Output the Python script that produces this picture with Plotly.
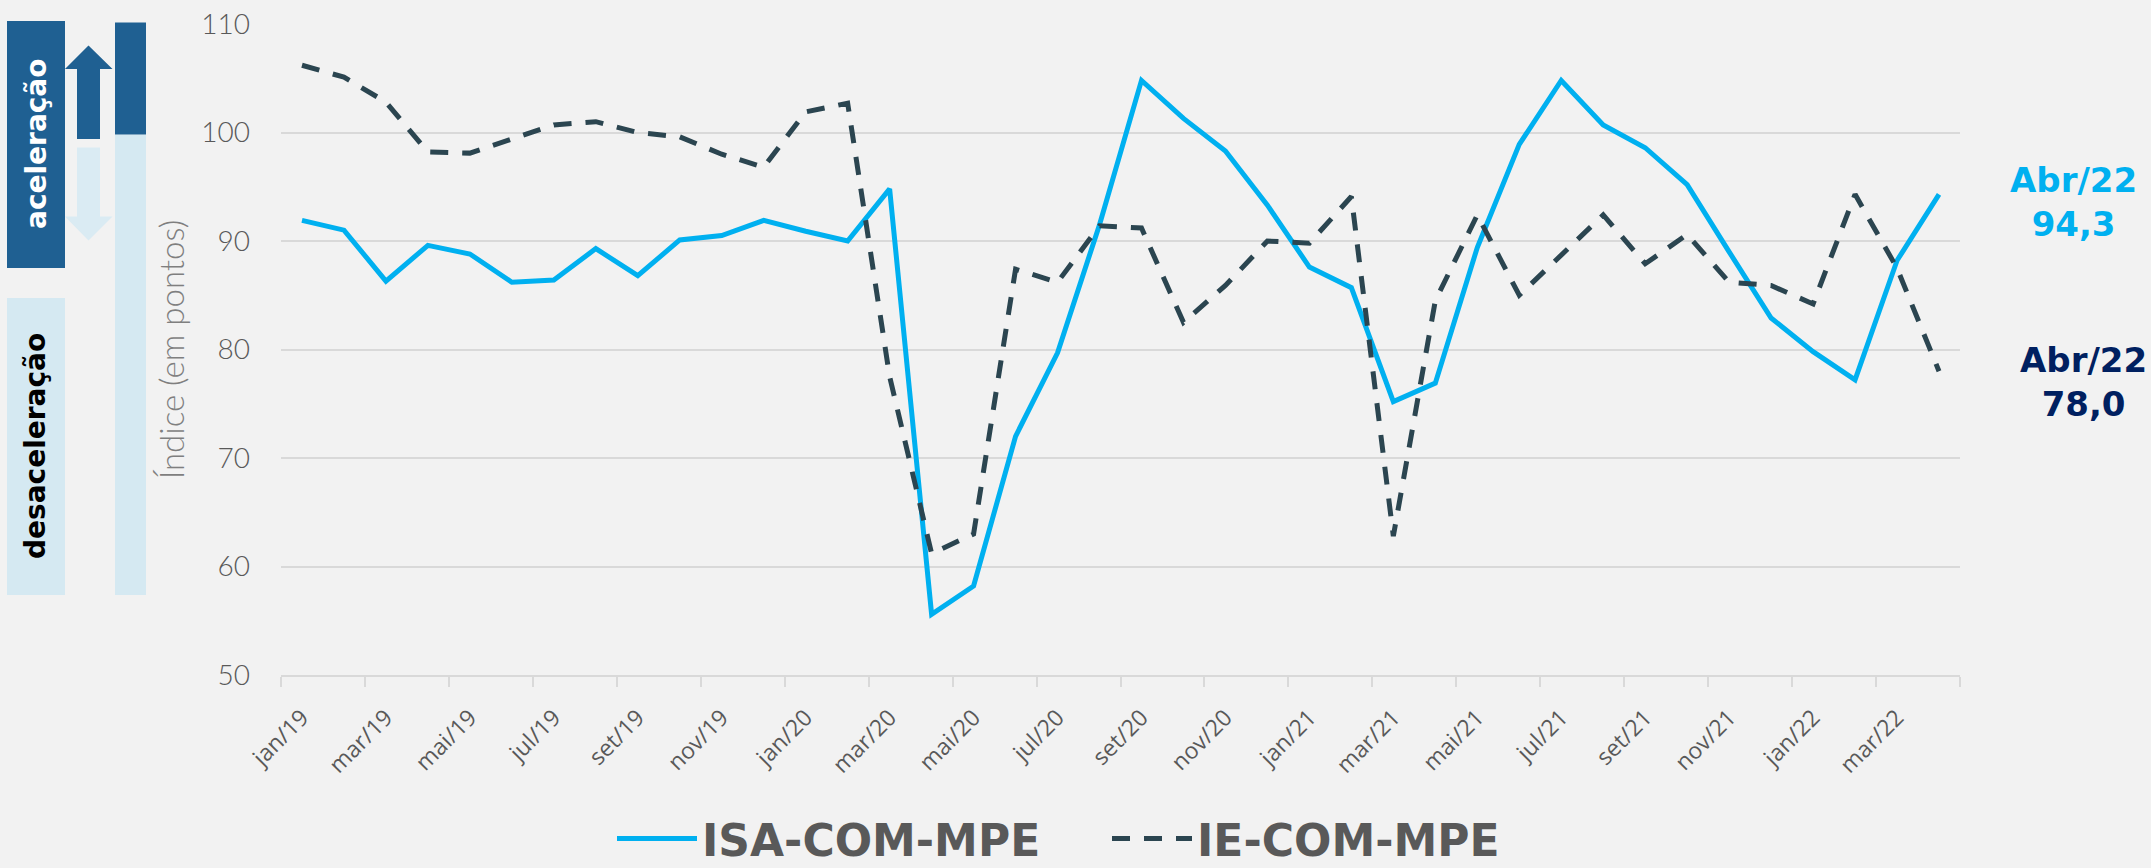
import numpy as np
import plotly.graph_objects as go

# ---------------- data ----------------
months = ["jan/19", "fev/19", "mar/19", "abr/19", "mai/19", "jun/19", "jul/19", "ago/19", "set/19", "out/19", "nov/19", "dez/19",
          "jan/20", "fev/20", "mar/20", "abr/20", "mai/20", "jun/20", "jul/20", "ago/20", "set/20", "out/20", "nov/20", "dez/20",
          "jan/21", "fev/21", "mar/21", "abr/21", "mai/21", "jun/21", "jul/21", "ago/21", "set/21", "out/21", "nov/21", "dez/21",
          "jan/22", "fev/22", "mar/22", "abr/22"]

isa_com_mpe = [91.9, 91.0, 86.3, 89.6, 88.8, 86.2, 86.4, 89.3, 86.8, 90.1, 90.5, 91.9,
               90.9, 90.0, 94.8, 55.6, 58.2, 72.0, 79.7, 91.5, 104.8, 101.3, 98.3, 93.3,
               87.6, 85.7, 75.2, 76.9, 89.4, 98.9, 104.8, 100.7, 98.6, 95.2, 89.0, 82.9,
               79.8, 77.2, 88.2, 94.3]

ie_com_mpe = [106.2, 105.1, 102.8, 98.2, 98.1, 99.4, 100.7, 101.0, 100.0, 99.6, 98.0, 96.8,
              101.9, 102.7, 77.5, 61.2, 63.0, 87.4, 86.2, 91.4, 91.2, 82.5, 85.9, 90.0,
              89.8, 94.1, 62.8, 84.5, 92.4, 85.0, 88.7, 92.4, 87.9, 90.6, 86.2, 85.9,
              84.2, 94.3, 87.5, 78.0]

series_names = ["ISA-COM-MPE", "IE-COM-MPE"]
last_labels = ["Abr/22<br>94,3", "Abr/22<br>78,0"]
y_ticks = [50, 60, 70, 80, 90, 100, 110]

# ---------------- layout geometry ----------------
W_FIG, H_FIG = 2151, 868
ML, MR, MT, MB = 281, 191, 24, 193
PW = W_FIG - ML - MR
PH = H_FIG - MT - MB


def fx(px):
    return (px - ML) / PW


def fy(py):
    return (H_FIG - MB - py) / PH


x_idx = np.arange(len(months))
label_idx = x_idx[::2]
label_txt = [months[i] for i in label_idx]

BLUE = "#00B0F0"
DARK = "#2B4550"
NAVY = "#002060"
BG = "#F2F2F2"
GRID = "#D9D9D9"
TXT = "#595959"

fig = go.Figure()
fig.add_trace(go.Scatter(x=x_idx, y=isa_com_mpe, mode="lines", name=series_names[0],
                         line=dict(color=BLUE, width=5)))
fig.add_trace(go.Scatter(x=x_idx, y=ie_com_mpe, mode="lines", name=series_names[1],
                         line=dict(color=DARK, width=5, dash="18px,14px")))

# ---------------- decorations on the left ----------------
DARK_BOX = "#1F6092"
LIGHT_BOX = "#D5E9F2"
shapes = []
shapes.append(dict(type="rect", xref="paper", yref="paper", x0=fx(7), x1=fx(65), y0=fy(268), y1=fy(21),
                   fillcolor=DARK_BOX, line=dict(width=0), layer="above"))
shapes.append(dict(type="rect", xref="paper", yref="paper", x0=fx(7), x1=fx(65), y0=fy(595), y1=fy(298),
                   fillcolor=LIGHT_BOX, line=dict(width=0), layer="above"))
shapes.append(dict(type="rect", xref="paper", yref="paper", x0=fx(115), x1=fx(146), y0=fy(595), y1=fy(134.5),
                   fillcolor=LIGHT_BOX, line=dict(width=0), layer="above"))
shapes.append(dict(type="rect", xref="paper", yref="paper", x0=fx(115), x1=fx(146), y0=fy(134.5), y1=fy(22.5),
                   fillcolor=DARK_BOX, line=dict(width=0), layer="above"))


def poly(pts):
    return "M " + " L ".join(f"{fx(a):.5f},{fy(b):.5f}" for a, b in pts) + " Z"


up = [(77, 139), (77, 69), (65, 69), (88.5, 45.5), (112.5, 69), (100, 69), (100, 139)]
shapes.append(dict(type="path", xref="paper", yref="paper", path=poly(up),
                   fillcolor=DARK_BOX, line=dict(width=0), layer="above"))
down = [(77, 147.5), (77, 216.5), (65, 216.5), (88.5, 240.5), (112.5, 216.5), (100, 216.5), (100, 147.5)]
shapes.append(dict(type="path", xref="paper", yref="paper", path=poly(down),
                   fillcolor="#DAEBF3", line=dict(width=0), layer="above"))

annotations = [
    dict(xref="paper", yref="paper", x=fx(36), y=fy(144), text="<b>aceleração</b>", textangle=-90,
         showarrow=False, xanchor="center", yanchor="middle",
         font=dict(family="DejaVu Sans", size=28, color="white")),
    dict(xref="paper", yref="paper", x=fx(36), y=fy(446), text="<b>desaceleração</b>", textangle=-90,
         showarrow=False, xanchor="center", yanchor="middle",
         font=dict(family="DejaVu Sans", size=28, color="black")),
    dict(xref="paper", yref="paper", x=fx(2073), y=fy(202), text="<b>" + last_labels[0] + "</b>",
         showarrow=False, xanchor="center", yanchor="middle", align="center",
         font=dict(family="DejaVu Sans", size=34, color=BLUE)),
    dict(xref="paper", yref="paper", x=fx(2083), y=fy(382), text="<b>" + last_labels[1] + "</b>",
         showarrow=False, xanchor="center", yanchor="middle", align="center",
         font=dict(family="DejaVu Sans", size=34, color=NAVY)),
]

fig.update_layout(
    width=W_FIG, height=H_FIG,
    margin=dict(l=ML, r=MR, t=MT, b=MB, autoexpand=False),
    paper_bgcolor=BG, plot_bgcolor=BG,
    shapes=shapes, annotations=annotations,
    showlegend=True,
    legend=dict(orientation="h", x=fx(612), xanchor="left", y=fy(839), yanchor="middle",
                font=dict(family="DejaVu Sans", size=44, color=TXT, weight="bold"),
                itemwidth=80, entrywidth=400, bgcolor="rgba(0,0,0,0)", traceorder="normal"),
    xaxis=dict(range=[-0.5, len(months) - 0.5], tickmode="array", tickvals=label_idx, ticktext=label_txt,
               tickangle=-45, ticks="", showgrid=False, zeroline=False,
               showline=True, linecolor=GRID, linewidth=2,
               tickfont=dict(family="Open Sans", size=23, color=TXT),
               ticklabelstandoff=18,
               minor=dict(tick0=-0.5, dtick=2, ticks="outside", ticklen=10, tickwidth=2, tickcolor=GRID,
                          showgrid=False)),
    yaxis=dict(range=[50, 110], tickvals=y_ticks, showgrid=True, gridcolor=GRID, gridwidth=2,
               zeroline=False, showline=False, ticks="",
               tickfont=dict(family="Lato", size=28, color=TXT, weight=300),
               ticklabelstandoff=30,
               title=dict(text="Índice (em pontos)", standoff=6,
                          font=dict(family="Lato", size=33, color="#7F7F7F", weight=300))),
)

fig.write_html("out.html", config={"displayModeBar": False},
               post_script="document.body.style.margin='0px';document.body.style.overflow='hidden';")
